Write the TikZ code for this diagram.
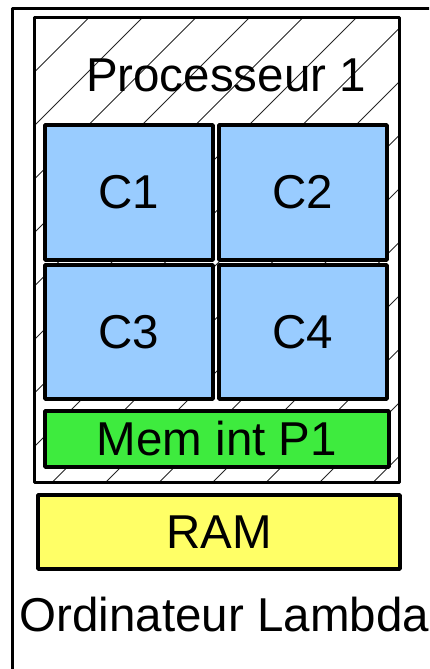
\documentclass[tikz,border=0pt]{standalone}
\usepackage{fontspec}
\setmainfont{Liberation Sans}
\definecolor{coreblue}{RGB}{153,204,255}
\definecolor{memgreen}{RGB}{62,235,62}
\definecolor{ramyellow}{RGB}{255,255,102}
\begin{document}
\begin{tikzpicture}[x=1pt,y=-1pt,
  big/.style={font=\fontsize{47.5}{54}\selectfont},
  unit/.style={draw=black, line join=round, inner sep=0pt, outer sep=0pt, big},
  corebox/.style={unit, fill=coreblue, line width=3.5pt, minimum width=168pt},
  hatchline/.style={line width=0.8pt, black!85}]
\useasboundingbox (0,0) rectangle (429,669);
\clip (0,0) rectangle (429,669);

% computer enclosure (runs past the page edges)
\draw[line width=3pt, line join=round] (12.5,9) rectangle (470,710);

% processor frame with diagonal hatching
\node[inner sep=0pt, outer sep=0pt, minimum width=364.5pt, minimum height=464pt] (proc) at (216.75,250) {};
\begin{scope}
  \clip (proc.south west) rectangle (proc.north east);
  \foreach \k in {0,...,15}
    \draw[hatchline] ({106.5+53.5*\k},0) -- ({106.5+53.5*\k-720},720);
\end{scope}
\draw[line width=3pt, line join=round] (proc.south west) rectangle (proc.north east);
\node[big, inner sep=0pt, anchor=base] (ptitle) at (226,91) {Processeur 1};

% cores
\node[corebox, minimum height=135pt] (c1) at (129,192.5) {C1};
\node[corebox, minimum height=135pt] (c2) at (303,192.5) {C2};
\node[corebox, minimum height=134pt] (c3) at (129,332) {C3};
\node[corebox, minimum height=134pt] (c4) at (303,332) {C4};

% internal memory
\node[unit, fill=memgreen, line width=3.5pt, minimum width=344pt, minimum height=56pt] (mem) at (217,439) {Mem int P1};

% main memory
\node[unit, fill=ramyellow, line width=3.5pt, minimum width=362pt, minimum height=74pt] (ram) at (219,532) {RAM};

% computer label
\node[big, inner sep=0pt, anchor=base west] (olabel) at (19.5,631.5) {Ordinateur Lambda};
\end{tikzpicture}
\end{document}
